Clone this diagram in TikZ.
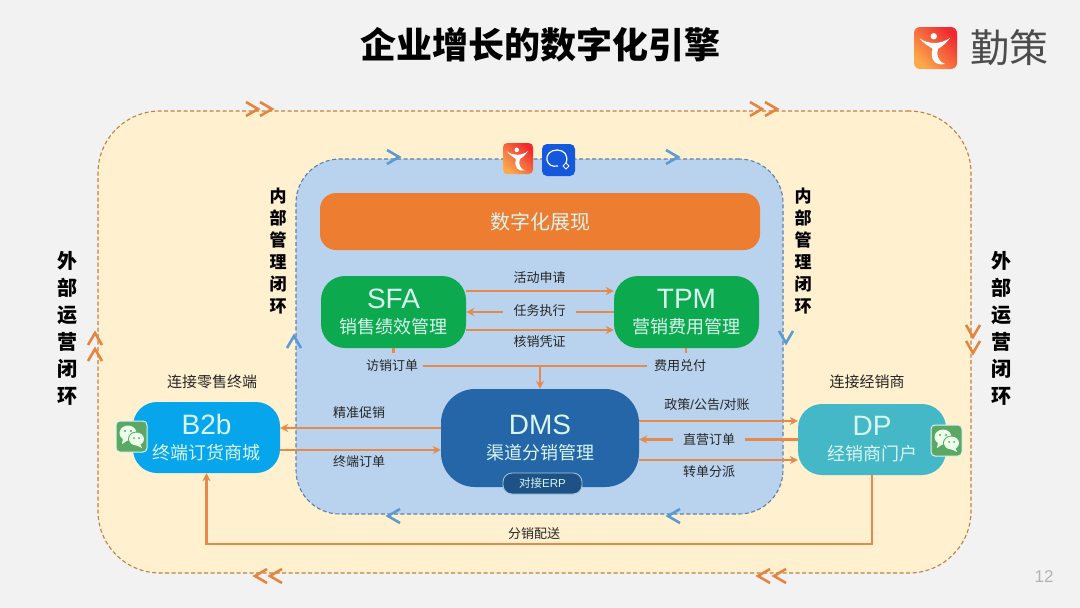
\documentclass[tikz,border=0pt]{standalone}
\usepackage{fontspec}
\setmainfont{Noto Sans CJK SC}
\setsansfont{Noto Sans CJK SC}
\newfontfamily\latinlight{Liberation Sans}
\usetikzlibrary{arrows.meta,shapes.misc}
\definecolor{bgc}{HTML}{F2F2F2}
\definecolor{outerfill}{HTML}{FFF0CF}
\definecolor{outerline}{HTML}{C4803F}
\definecolor{innerfill}{HTML}{B9D3EE}
\definecolor{innerline}{HTML}{5F7FA6}
\definecolor{barfill}{HTML}{ED7D31}
\definecolor{greenfill}{HTML}{0DA94E}
\definecolor{dmsfill}{HTML}{2566A8}
\definecolor{bbfill}{HTML}{07A6EC}
\definecolor{dpfill}{HTML}{45B8C8}
\definecolor{flow}{HTML}{E38A4C}
\definecolor{chevo}{HTML}{E5843F}
\definecolor{chevb}{HTML}{5B9BD5}
\definecolor{wxgreen}{HTML}{5BA865}
\definecolor{txt}{HTML}{262626}
\definecolor{softwhite}{HTML}{D8F5F0}
\definecolor{logoa}{HTML}{F02A30}
\definecolor{logob}{HTML}{FBA94A}
\definecolor{qwblue}{HTML}{1658DC}
\tikzset{
 loop/.style={draw,dash pattern=on 4pt off 2.5pt,line width=1.1pt,inner sep=0pt,rectangle},
 module/.style={rectangle,inner sep=0pt,align=center,text=softwhite,font=\fontsize{18pt}{24pt}\selectfont},
 flabel/.style={inner sep=1pt,text=txt,font=\fontsize{13pt}{15pt}\selectfont},
 flowline/.style={draw=flow,line width=2.5pt},
 flowarrow/.style={flowline,-{Stealth[length=8pt,width=8pt]}},
 vlabel/.style={inner sep=0pt,align=center,text=black,font=\bfseries\fontsize{17pt}{22pt}\selectfont},
 vlabelbig/.style={inner sep=0pt,align=center,text=black,font=\bfseries\fontsize{20pt}{27pt}\selectfont},
 chevron/.style={line width=2.6pt,line join=miter}
}
\newcommand{\heading}[1]{{\latinlight\fontsize{28pt}{32pt}\selectfont #1}}
\newcommand{\chev}[4]{\draw[chevron,#4,shift={(#1,#2)},rotate=#3] (-6pt,7pt) -- (6pt,0pt) -- (-6pt,-7pt);}
\newcommand{\dancer}[4]{%
 \begin{scope}[shift={(#1,#2)},x=#3pt,y=-#4pt]
  \shade[shading=axis,left color=logoa,right color=logob,shading angle=-45,rounded corners=#3*0.14pt] (0,0) rectangle (1,1);
  \fill[white] (0.46,0.22) circle[x radius=0.075,y radius=0.075];
  \fill[white] (0.13,0.27) .. controls (0.35,0.42) and (0.6,0.42) .. (0.84,0.26) .. controls (0.72,0.42) and (0.6,0.5) .. (0.56,0.52) .. controls (0.5,0.7) and (0.6,0.85) .. (0.72,0.88) .. controls (0.5,0.93) and (0.36,0.78) .. (0.43,0.52) .. controls (0.36,0.46) and (0.22,0.4) .. (0.13,0.27) -- cycle;
 \end{scope}}
\newcommand{\wechat}[2]{%
 \begin{scope}[shift={(#1,#2)}]
  \fill[wxgreen,draw=softwhite,line width=1pt,rounded corners=4pt] (0,0) rectangle (31,31);
  \fill[white!92!green] (12,12) ellipse[x radius=8.5pt,y radius=7.5pt];
  \fill[white!92!green] (7,17) -- (6,23) -- (12,19) -- cycle;
  \fill[wxgreen] (20.5,18) ellipse[x radius=8.5pt,y radius=7.5pt];
  \fill[white!92!green] (20.5,18) ellipse[x radius=7.5pt,y radius=6.5pt];
  \fill[white!92!green] (24,22) -- (26,27) -- (20,24) -- cycle;
  \fill[wxgreen] (9,10) circle[radius=1.2pt] (15,10) circle[radius=1.2pt] (18,17) circle[radius=1pt] (23,17) circle[radius=1pt];
 \end{scope}}
\begin{document}
\begin{tikzpicture}[x=1pt,y=-1pt]
\useasboundingbox (0,0) rectangle (1080,608);
\fill[bgc] (0,0) rectangle (1080,608);

% title and logo
\node[inner sep=0pt,text=black,font=\bfseries\fontsize{36pt}{40pt}\selectfont] (title) at (540,45) {企业增长的数字化引擎};
\dancer{914}{27}{43}{42}
\node[inner sep=0pt,text=black!70,font=\fontsize{39pt}{42pt}\selectfont] (brand) at (1009,48) {勤策};

% loops
\node[loop,draw=outerline,fill=outerfill,rounded corners=62pt,minimum width=873pt,minimum height=462pt] (outer) at (534.5,342) {};
\node[loop,draw=innerline,fill=innerfill,rounded corners=44pt,minimum width=487pt,minimum height=355pt] (inner) at (539.5,336.5) {};

% chevrons outer
\chev{252}{109}{0}{chevo}\chev{266}{109}{0}{chevo}
\chev{756}{109}{0}{chevo}\chev{771}{109}{0}{chevo}
\chev{261}{576}{180}{chevo}\chev{276}{576}{180}{chevo}
\chev{764}{576}{180}{chevo}\chev{780}{576}{180}{chevo}
\chev{95}{339}{90}{chevo}\chev{95}{355}{90}{chevo}
\chev{973}{331}{-90}{chevo}\chev{973}{347}{-90}{chevo}
% chevrons inner
\chev{393}{157}{0}{chevb}\chev{672}{157}{0}{chevb}
\chev{394}{516}{180}{chevb}\chev{674}{516}{180}{chevb}
\chev{294}{342}{90}{chevb}\chev{786}{337}{-90}{chevb}

% top icons
\dancer{503}{143}{30}{31}
\begin{scope}[shift={(542,144)}]
 \fill[qwblue,rounded corners=5pt] (0,0) rectangle (33,32);
 \draw[white,line width=1.2pt] (24,19) .. controls (27,11) and (22,6) .. (15,6) .. controls (8,6) and (4,11) .. (5,16) .. controls (6,21) and (10,23) .. (16,22);
 \draw[white,line width=1pt] (24,19) -- (27,22) -- (24,25) -- (21,22) -- cycle;
\end{scope}

% bar
\node[rectangle,inner sep=0pt,rounded corners=16pt,fill=barfill,minimum width=440pt,minimum height=57pt,text=softwhite,font=\fontsize{20pt}{24pt}\selectfont] (bar) at (540,221.5) {数字化展现};

% modules
\node[module,fill=greenfill,rounded corners=24pt,minimum width=145pt,minimum height=72pt] (SFA) at (393.5,312) {\heading{SFA}\\[1pt]销售绩效管理};
\node[module,fill=greenfill,rounded corners=24pt,minimum width=145pt,minimum height=72pt] (TPM) at (686.5,312) {\heading{TPM}\\[1pt]营销费用管理};
\node[module,fill=dmsfill,rounded corners=34pt,minimum width=198pt,minimum height=98pt] (DMS) at (540,438) {\heading{DMS}\\[1pt]渠道分销管理};
\node[rectangle,inner sep=0pt,rounded corners=9pt,fill=dmsfill!80!black,draw=softwhite!70!dmsfill,line width=.8pt,minimum width=79pt,minimum height=21pt,text=softwhite,font=\fontsize{11.5pt}{13pt}\selectfont] (ERP) at (542.5,483.5) {对接{\latinlight ERP}};
\node[module,fill=bbfill,rounded corners=24pt,minimum width=147pt,minimum height=71pt] (B2b) at (206.5,437.5) {\heading{B2b}\\[1pt]终端订货商城};
\node[module,fill=dpfill,rounded corners=24pt,minimum width=148pt,minimum height=71pt] (DP) at (872,439.5) {\heading{DP}\\[1pt]经销商门户};
\wechat{116}{421}
\wechat{931}{425}

% flow labels
\node[flabel] (l1) at (539.5,278) {活动申请};
\node[flabel] (l2) at (539.5,310.5) {任务执行};
\node[flabel] (l3) at (539.5,342) {核销凭证};
\node[flabel] (l4) at (392,366) {访销订单};
\node[flabel] (l5) at (680,366) {费用兑付};
\node[flabel] (l6) at (359,413) {精准促销};
\node[flabel] (l7) at (359,462) {终端订单};
\node[flabel] (l8) at (707,405) {政策{\latinlight /}公告{\latinlight /}对账};
\node[flabel] (l9) at (709,439.5) {直营订单};
\node[flabel] (l10) at (709,472) {转单分派};
\node[flabel] (l11) at (534,534) {分销配送};
\node[flabel,font=\fontsize{15pt}{18pt}\selectfont] (l12) at (212,382) {连接零售终端};
\node[flabel,font=\fontsize{15pt}{18pt}\selectfont] (l13) at (867,382) {连接经销商};

% vertical labels
\node[vlabel] (v1) at (278,251) {内\\部\\管\\理\\闭\\环};
\node[vlabel] (v2) at (803,251) {内\\部\\管\\理\\闭\\环};
\node[vlabelbig] (v3) at (67,328) {外\\部\\运\\营\\闭\\环};
\node[vlabelbig] (v4) at (1001,328) {外\\部\\运\\营\\闭\\环};

% connectors
\draw[flowarrow] ([yshift=21pt]SFA.east) -- ([yshift=21pt]TPM.west);
\draw[flowline] (TPM.west) -- ([xshift=9pt]l2.east |- TPM.west);
\draw[flowarrow] ([xshift=-9pt]l2.west |- SFA.east) -- (SFA.east);
\draw[flowarrow] ([yshift=-18pt]SFA.east) -- ([yshift=-18pt]TPM.west);
\draw[flowline] (SFA.south) -- ([yshift=6pt]SFA.south |- l4.north);
\draw[flowline] ([xshift=-0.5pt]TPM.south) -- ([xshift=-0.5pt,yshift=6pt]TPM.south |- l5.north);
\coordinate (join) at (DMS.north |- l4.east);
\draw[flowline] ([xshift=4pt]l4.east) -- ([xshift=-6pt]l5.west);
\draw[flowarrow] (join) -- (DMS.north);
\draw[flowarrow] ([yshift=10pt]DMS.west) -- ([yshift=9.5pt]B2b.east);
\draw[flowarrow] ([yshift=-12.5pt]B2b.east) -- ([yshift=-12pt]DMS.west);
\draw[flowarrow] ([yshift=17pt]DMS.east) -- ([yshift=18.5pt]DP.west);
\draw[flowline] (DP.west) -- ([xshift=9pt]l9.east |- DP.west);
\draw[flowarrow] ([xshift=-9pt]l9.west |- DP.west) -- (DMS.east |- DP.west);
\draw[flowarrow] ([yshift=-22pt]DMS.east) -- ([yshift=-20.5pt]DP.west);
\draw[flowarrow] (DP.south) |- (534,544) -| (B2b.south);

\node[inner sep=0pt,text=black!30,font=\latinlight\fontsize{17pt}{20pt}\selectfont] (pageno) at (1044,577) {12};
\end{tikzpicture}
\end{document}
